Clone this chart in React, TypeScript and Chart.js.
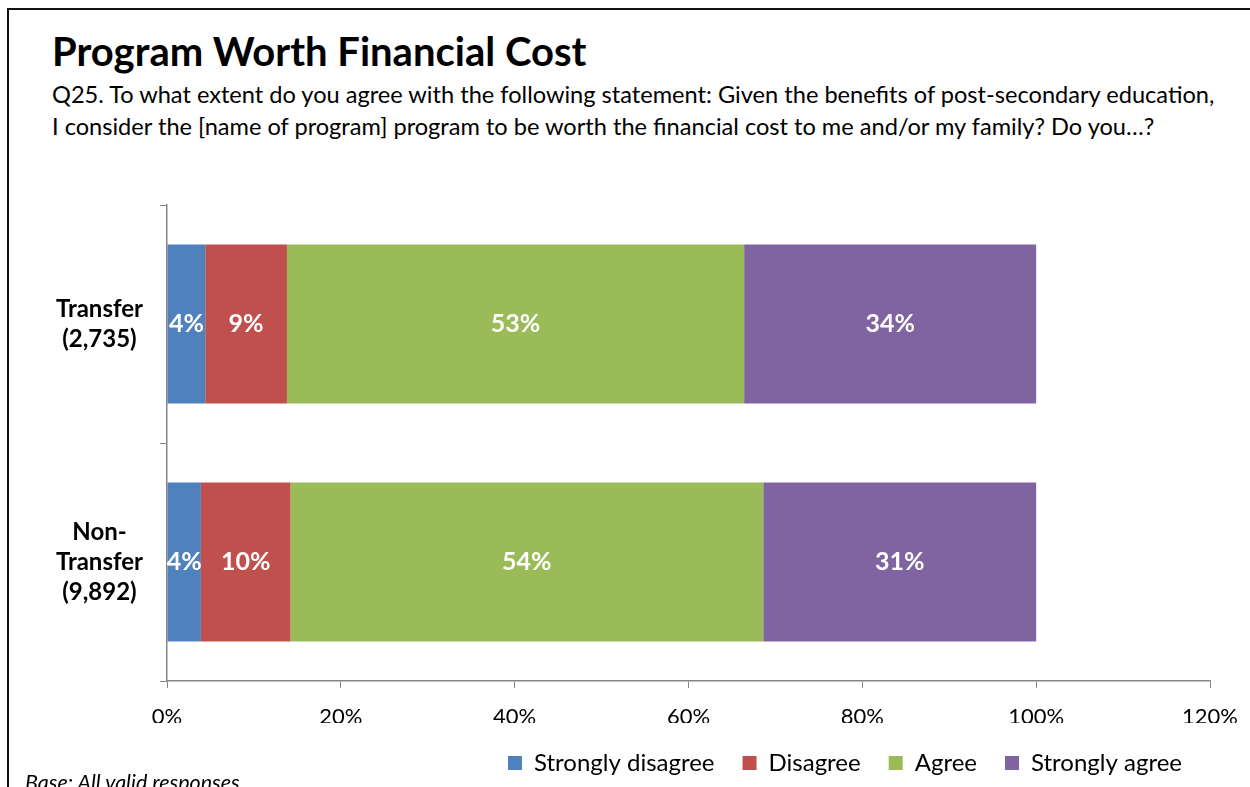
import React, { useEffect, useRef } from "react";
import { Chart, registerables } from "chart.js";

Chart.register(...registerables);

const FONT = "Lato, 'Open Sans', sans-serif";

const categories: string[][] = [
  ["Transfer", "(2,735)"],
  ["Non-", "Transfer", "(9,892)"],
];
const seriesNames = ["Strongly disagree", "Disagree", "Agree", "Strongly agree"];
const stronglyDisagree = [4.4, 3.9];
const disagree = [9.4, 10.3];
const agree = [52.6, 54.4];
const stronglyAgree = [33.6, 31.4];
const seriesColors = ["#4F81BD", "#C0504D", "#9BBB59", "#8064A2"];
const xTicks = [0, 20, 40, 60, 80, 100, 120];

const titleText = "Program Worth Financial Cost";
const subtitleLines = [
  "Q25. To what extent do you agree with the following statement: Given the benefits of post-secondary education,",
  "I consider the [name of program] program to be worth the financial cost to me and/or my family? Do you\u2026?",
];
const baseText = "Base: All valid responses";

const labelPlugin = {
  id: "segLabels",
  afterDatasetsDraw(chart: any) {
    const ctx = chart.ctx;
    ctx.save();
    ctx.fillStyle = "#FFFFFF";
    ctx.font = `bold 25px ${FONT}`;
    ctx.textAlign = "center";
    ctx.textBaseline = "middle";
    chart.data.datasets.forEach((ds: any, di: number) => {
      const meta = chart.getDatasetMeta(di);
      meta.data.forEach((el: any, i: number) => {
        const p = el.getCenterPoint();
        ctx.fillText(Math.round(ds.data[i]) + "%", p.x, p.y);
      });
    });
    ctx.restore();
  },
};

export default function App() {
  const ref = useRef<HTMLCanvasElement | null>(null);

  useEffect(() => {
    document.body.style.margin = "0";
    const canvas = ref.current;
    if (!canvas) return;
    const values = [stronglyDisagree, disagree, agree, stronglyAgree];
    const chart = new Chart(canvas, {
      type: "bar",
      data: {
        labels: categories as any,
        datasets: seriesNames.map((name, i) => ({
          label: name,
          data: values[i],
          backgroundColor: seriesColors[i],
          borderWidth: 0,
          barPercentage: 0.668,
          categoryPercentage: 1,
        })),
      },
      options: {
        indexAxis: "y",
        animation: false,
        responsive: false,
        maintainAspectRatio: false,
        layout: { autoPadding: false, padding: { top: 10, right: 40, bottom: 2, left: 0 } },
        plugins: {
          legend: {
            position: "bottom",
            align: "end",
            labels: {
              boxWidth: 14,
              boxHeight: 14,
              padding: 28,
              color: "#000",
              font: { family: FONT, size: 24, lineHeight: 1 },
            },
          },
          tooltip: { enabled: false },
        },
        scales: {
          x: {
            type: "linear",
            stacked: true,
            min: 0,
            max: 120,
            afterBuildTicks: (s: any) => {
              s.ticks = xTicks.map((v) => ({ value: v }));
            },
            afterFit: (s: any) => {
              s.height = 42;
              s.paddingLeft = 0;
              s.paddingRight = 0;
              s.paddingTop = 0;
              s.paddingBottom = 0;
            },
            ticks: {
              callback: (v: any) => v + "%",
              color: "#000",
              padding: 16,
              font: { family: FONT, size: 22 },
              maxRotation: 0,
            },
            grid: {
              drawOnChartArea: false,
              drawTicks: true,
              tickLength: 7,
              color: "#868686",
            },
            border: { color: "#868686", width: 1.5 },
          },
          y: {
            type: "category",
            stacked: true,
            offset: true,
            afterFit: (s: any) => {
              s.width = 167;
              s.paddingLeft = 0;
              s.paddingRight = 0;
              s.paddingTop = 0;
              s.paddingBottom = 0;
            },
            ticks: {
              color: "#000",
              padding: 17,
              crossAlign: "center",
              font: { family: FONT, size: 24, weight: "bold", lineHeight: 1.25 },
            },
            grid: {
              offset: true,
              drawOnChartArea: false,
              drawTicks: true,
              tickLength: 7,
              color: "#868686",
            },
            border: { color: "#868686", width: 1.5 },
          },
        },
      },
      plugins: [labelPlugin],
    } as any);
    return () => chart.destroy();
  }, []);

  return (
    <div
      style={{
        position: "relative",
        width: 1250,
        height: 787,
        overflow: "hidden",
        background: "#fff",
        fontFamily: FONT,
      }}
    >
      <div
        style={{
          position: "absolute",
          left: 7,
          top: 8,
          width: 1400,
          height: 1000,
          borderTop: "2px solid #111",
          borderLeft: "2px solid #111",
        }}
      />
      <div
        style={{
          position: "absolute",
          left: 52,
          top: 31,
          fontSize: 40,
          lineHeight: "40px",
          fontWeight: 700,
          color: "#000",
          whiteSpace: "nowrap",
        }}
      >
        {titleText}
      </div>
      <div
        style={{
          position: "absolute",
          left: 52,
          top: 78,
          fontSize: 23.6,
          lineHeight: "32px",
          color: "#000",
          whiteSpace: "nowrap",
        }}
      >
        {subtitleLines.map((l, i) => (
          <div key={i}>{l}</div>
        ))}
      </div>
      <canvas
        ref={ref}
        width={1250}
        height={592}
        style={{ position: "absolute", left: 0, top: 195, width: 1250, height: 592 }}
      />
      <div
        style={{
          position: "absolute",
          left: 25,
          top: 772,
          fontSize: 21.5,
          lineHeight: "21.5px",
          fontStyle: "italic",
          color: "#000",
          whiteSpace: "nowrap",
        }}
      >
        {baseText}
      </div>
    </div>
  );
}
